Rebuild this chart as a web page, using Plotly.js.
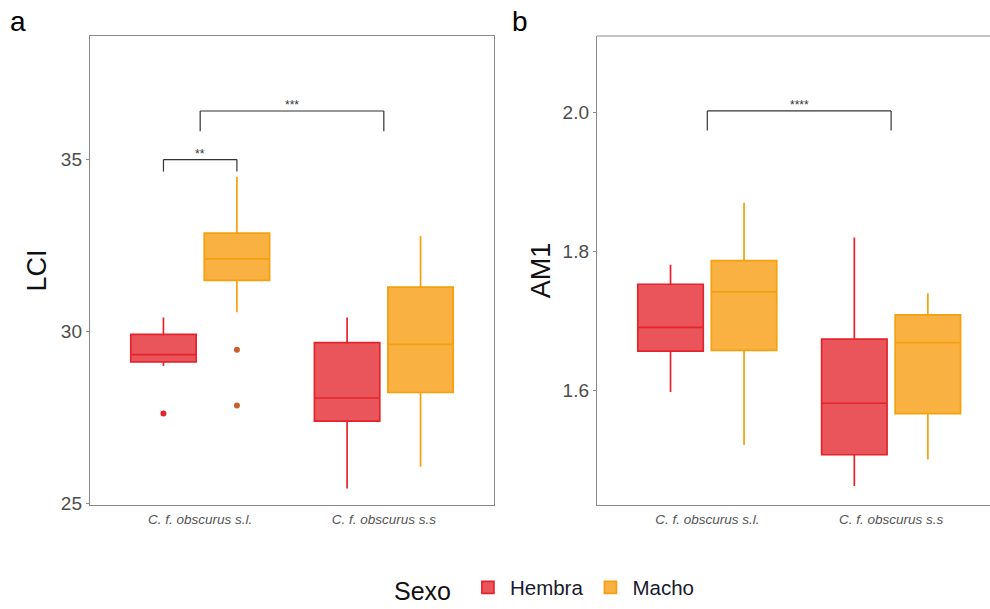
<!DOCTYPE html>
<html>
<head>
<meta charset="utf-8">
<script src="https://cdn.plot.ly/plotly-3.0.1.min.js"></script>
<style>html,body{margin:0;padding:0;background:#fff;}#chart{width:990px;height:609px;}</style>
</head>
<body>
<div id="chart"></div>
<script>
// ---------- data ----------
const categories = ['C. f. obscurus s.l.', 'C. f. obscurus s.s'];
const sexes = ['Hembra', 'Macho'];

// Panel a: LCI
const lciHembraLower  = [28.99, 25.43];
const lciHembraQ1     = [29.11, 27.39];
const lciHembraMedian = [29.32, 28.06];
const lciHembraQ3     = [29.91, 29.67];
const lciHembraUpper  = [30.40, 30.40];
const lciMachoLower   = [30.55, 26.06];
const lciMachoQ1      = [31.48, 28.22];
const lciMachoMedian  = [32.10, 29.62];
const lciMachoQ3      = [32.85, 31.28];
const lciMachoUpper   = [34.49, 32.77];
// outliers
const lciHembraOutX = ['C. f. obscurus s.l.'];
const lciHembraOutY = [27.61];
const lciMachoOutX  = ['C. f. obscurus s.l.', 'C. f. obscurus s.l.'];
const lciMachoOutY  = [29.46, 27.84];

// Panel b: AM1
const amHembraLower  = [1.598, 1.463];
const amHembraQ1     = [1.657, 1.508];
const amHembraMedian = [1.691, 1.582];
const amHembraQ3     = [1.753, 1.674];
const amHembraUpper  = [1.781, 1.820];
const amMachoLower   = [1.522, 1.501];
const amMachoQ1      = [1.658, 1.567];
const amMachoMedian  = [1.742, 1.669];
const amMachoQ3      = [1.787, 1.709];
const amMachoUpper   = [1.870, 1.740];

// tick labels
const lciTicks = [25, 30, 35];
const amTicks = [1.6, 1.8, 2.0];

// ---------- styling ----------
const lineCol = {Hembra: '#E4242C', Macho: '#F5A00F'};
const fillCol = {Hembra: 'rgba(226,34,42,0.77)', Macho: 'rgba(247,158,18,0.8)'};
const outCol  = {Hembra: '#E4242C', Macho: '#C8602A'};
const FONT = 'Liberation Sans, Arial, sans-serif';

function boxTrace(name, lo, q1, med, q3, up, xa, ya, showlegend) {
  return {
    type: 'box', name: name, legendgroup: name, showlegend: showlegend,
    x: categories, q1: q1, median: med, q3: q3, lowerfence: lo, upperfence: up,
    xaxis: xa, yaxis: ya, offsetgroup: name,
    fillcolor: fillCol[name], line: {color: lineCol[name], width: 1.7},
    boxpoints: false, hoverinfo: 'skip', whiskerwidth: 0
  };
}

const traces = [
  boxTrace('Hembra', lciHembraLower, lciHembraQ1, lciHembraMedian, lciHembraQ3, lciHembraUpper, 'x', 'y', true),
  boxTrace('Macho', lciMachoLower, lciMachoQ1, lciMachoMedian, lciMachoQ3, lciMachoUpper, 'x', 'y', true),
  boxTrace('Hembra', amHembraLower, amHembraQ1, amHembraMedian, amHembraQ3, amHembraUpper, 'x2', 'y2', false),
  boxTrace('Macho', amMachoLower, amMachoQ1, amMachoMedian, amMachoQ3, amMachoUpper, 'x2', 'y2', false),
  {type: 'scatter', mode: 'markers', x: lciHembraOutX, y: lciHembraOutY, offsetgroup: 'Hembra',
   marker: {color: outCol.Hembra, size: 6}, showlegend: false, xaxis: 'x', yaxis: 'y', hoverinfo: 'skip'},
  {type: 'scatter', mode: 'markers', x: lciMachoOutX, y: lciMachoOutY, offsetgroup: 'Macho',
   marker: {color: outCol.Macho, size: 6}, showlegend: false, xaxis: 'x', yaxis: 'y', hoverinfo: 'skip'}
];

const W = 990, H = 609;
const yDom = [1 - 505 / H, 1 - 36 / H];
const frameCol = '#8a8a8a';

const xCommon = {
  type: 'category', showgrid: false, zeroline: false, showline: true, linecolor: frameCol, linewidth: 1.2,
  ticks: 'outside', ticklen: 2, tickcolor: 'rgba(0,0,0,0)', automargin: false,
  tickfont: {family: FONT, size: 13.5, color: '#555', style: 'italic'}, fixedrange: true
};
const yCommon = {
  showgrid: false, zeroline: false, showline: true, linecolor: frameCol, linewidth: 1.2,
  ticks: 'outside', ticklen: 3, tickcolor: frameCol, automargin: false,
  tickfont: {family: FONT, size: 19, color: '#4d4d4d'}, fixedrange: true
};

const layout = {
  width: W, height: H,
  margin: {l: 0, r: 0, t: 0, b: 0, autoexpand: false},
  paper_bgcolor: '#fff', plot_bgcolor: '#fff',
  boxmode: 'group', boxgap: 0.2, boxgroupgap: 0.11,
  scattermode: 'group', scattergap: 0.2,
  font: {family: FONT},
  xaxis: Object.assign({}, xCommon, {domain: [90 / W, 494 / W], range: [-0.6, 1.6], mirror: true, anchor: 'y'}),
  yaxis: Object.assign({}, yCommon, {domain: yDom, range: [24.95, 38.58], tickvals: lciTicks, mirror: true, anchor: 'x',
    title: {text: 'LCI', font: {family: FONT, size: 27, color: '#111'}, standoff: 6}}),
  xaxis2: Object.assign({}, xCommon, {domain: [597 / W, 1], range: [-0.6, 1.538], anchor: 'y2'}),
  yaxis2: Object.assign({}, yCommon, {domain: yDom, range: [1.4358, 2.1097], tickvals: amTicks, tickformat: '.1f', anchor: 'x2',
    title: {text: 'AM1', font: {family: FONT, size: 27, color: '#111'}, standoff: 4}}),
  legend: {
    orientation: 'h', x: 0.551, xanchor: 'center', y: 1 - 589 / H, yanchor: 'middle',
    title: {text: 'Sexo&nbsp;', side: 'left', font: {family: FONT, size: 25, color: '#111'}},
    font: {family: FONT, size: 20.5, color: '#1a1a2e'}, itemwidth: 34, traceorder: 'normal'
  },
  shapes: [
    // top border of panel b (cut at the right edge)
    {type: 'line', xref: 'paper', yref: 'paper', x0: 597 / W, x1: 1, y0: yDom[1], y1: yDom[1], line: {color: frameCol, width: 1.2}}
  ],
  annotations: [
    {text: 'a', xref: 'paper', yref: 'paper', x: 18 / W, y: 1 - 22 / H, xanchor: 'center', yanchor: 'middle', showarrow: false,
     font: {family: FONT, size: 28, color: '#000'}},
    {text: 'b', xref: 'paper', yref: 'paper', x: 520 / W, y: 1 - 22 / H, xanchor: 'center', yanchor: 'middle', showarrow: false,
     font: {family: FONT, size: 28, color: '#000'}}
  ]
};

// significance brackets
function bracket(xa, ya, c0, s0, c1, s1, yTop, yEnd, label) {
  const ln = {color: '#333', width: 1.2};
  layout.shapes.push(
    {type: 'line', xref: xa, yref: ya, x0: c0, x0shift: s0, x1: c1, x1shift: s1, y0: yTop, y1: yTop, line: ln},
    {type: 'line', xref: xa, yref: ya, x0: c0, x0shift: s0, x1: c0, x1shift: s0, y0: yTop, y1: yEnd, line: ln},
    {type: 'line', xref: xa, yref: ya, x0: c1, x0shift: s1, x1: c1, x1shift: s1, y0: yTop, y1: yEnd, line: ln}
  );
  const i0 = categories.indexOf(c0) + s0;
  const i1 = categories.indexOf(c1) + s1;
  layout.annotations.push({text: label, xref: xa, yref: ya, x: (i0 + i1) / 2, y: yTop, yanchor: 'bottom', showarrow: false,
    font: {family: FONT, size: 12, color: '#333'}, yshift: -3});
}
bracket('x', 'y', categories[0], -0.2, categories[0], 0.2, 34.99, 34.64, '**');
bracket('x', 'y', categories[0], 0, categories[1], 0, 36.40, 35.81, '***');
bracket('x2', 'y2', categories[0], 0, categories[1], 0, 2.002, 1.974, '****');

Plotly.newPlot('chart', traces, layout, {staticPlot: true, displayModeBar: false});
</script>
</body>
</html>
